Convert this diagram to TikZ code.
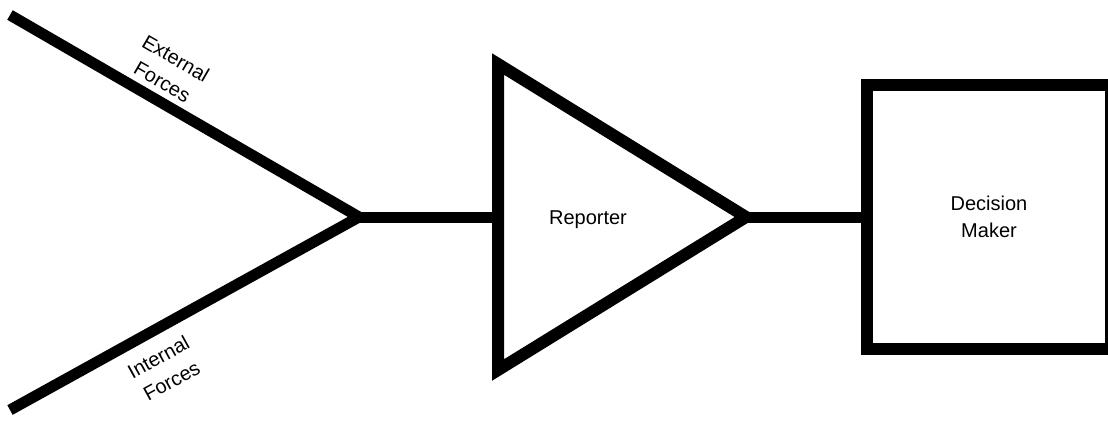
\documentclass[tikz,border=0pt]{standalone}
\usepackage{fontspec}
\setmainfont{Liberation Sans}
\usetikzlibrary{positioning}

\begin{document}
\begin{tikzpicture}[
x=1pt, y=-1pt,
heavy/.style={line width=11pt},
label text/.style={font=\fontsize{20}{27}\selectfont, align=center, inner sep=0pt}
]
\useasboundingbox (0,0) rectangle (1108,426);

%-------------------------
% Puntos
%-------------------------

\coordinate (ext) at (10,15);
\coordinate (int) at (10,410);
\coordinate (junction) at (359,217);

\coordinate (tri top) at (498,64);
\coordinate (tri bottom) at (498,370);
\coordinate (tri apex) at (746,217);
\coordinate (tri in) at (498,217);

%-------------------------
% Nodos
%-------------------------

\node (reporter) [label text] at (588,220) {Reporter};

\node (decision) [draw, line width=12pt, minimum width=244pt, minimum height=264pt,
  outer sep=0pt, label text] at (989,217) {Decision\\Maker};

%-------------------------
% Lineas
%-------------------------

\draw[heavy, line join=miter] (ext) -- (junction) -- (int);
\path (ext) -- node (exttext) [label text, pos=0.41, sloped, above=11pt] {External\\Forces} (junction);
\path (int) -- node (inttext) [label text, pos=0.39, sloped, below=18pt] {Internal\\Forces} (junction);

\draw[heavy] (junction) -- (tri in);
\draw[line width=12pt, line join=miter] (tri top) -- (tri apex) -- (tri bottom) -- cycle;
\draw[heavy] (tri apex) -- (decision.west);

\end{tikzpicture}
\end{document}
